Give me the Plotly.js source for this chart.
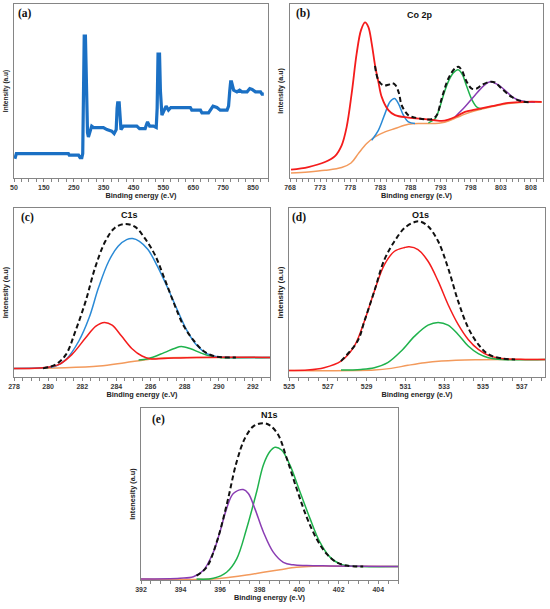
<!DOCTYPE html>
<html>
<head>
<meta charset="utf-8">
<script src="https://cdn.plot.ly/plotly-3.0.1.min.js"></script>
<style>html,body{margin:0;padding:0;background:#fff}#chart{width:550px;height:609px}</style>
</head>
<body>
<div id="chart"></div>
<script>
// (a) survey spectrum
const aE = [53,58,100,150,200,232,235,266,271,277,280,283,285,289,292,296,299,305,310,316,349,361,377,385,392,395,397,402,404,408,416,461,470,489,494,497,500,504,517,526,529,532,537,540,545,553,559,567,575,640,645,674,679,701,707,716,729,740,763,768,772,775,778,781,785,796,805,813,830,839,847,858,875,880,886];
const aY = [11.1,14,14,14,14,14,13.1,13.1,11.7,11.7,14,55,81.6,81.6,55,26,23.6,27,29.8,29.0,29.0,27.8,26.9,25.5,27.8,40,43.2,43.2,38,27.8,29.8,29.8,28.4,28.4,31,32.2,31,29.8,29.8,29.0,40,71.2,71.2,50,36.1,39.0,41.3,39.0,40.5,40.5,39.0,39.0,37.4,37.4,39.3,41.3,40.5,39.0,39.0,41.3,50,55.3,55.3,52,50.5,49.5,50.5,49.5,49.5,51.4,50.9,49.5,49.5,48.2,48.2];

// (b) Co 2p
const bE_red = [768.17,771.04,773.81,775.47,776.58,777.41,778.24,779.07,779.79,780.45,781.0,781.56,782.11,782.67,783.22,784.33,785.43,787.65,790.41,792.07,793.18,794.29,795.67,797.05,798.71,801.48,804.25,807.01,809.78];
const bY_red = [4.8,6.3,9.2,12.6,18.8,29.4,48.6,71.6,85.0,89.4,86.9,77.4,64.9,55.3,46.6,39.0,36.1,34.7,33.8,33.2,32.8,33.6,35.5,38.0,39.3,41.3,43.2,43.8,43.8];
const bE_bg = [768.17,771.04,773.81,776.58,778.13,779.34,780.73,782.11,783.77,785.43,787.65,789.86,792.07,793.18,794.29,795.67,797.05,798.71,801.48,804.25,807.01,809.78];
const bY_bg = [2.9,3.5,4.4,6.0,8.6,14.0,19.8,23.6,26.5,28.4,30.9,31.3,31.3,31.7,32.8,34.7,36.7,38.6,40.9,42.8,43.6,43.6];
const bE_blue = [781.56,782.67,783.77,784.6,785.35,786.0,786.82,787.65,788.75];
const bY_blue = [21.7,27.4,37.0,43.8,45.7,42.8,36.1,32.2,31.3];
const bE_green = [790.97,792.07,792.9,793.6,794.3,795.1,795.9,796.6,797.3,798.2,799.0,799.8];
const bY_green = [31.7,34,41,49,55.5,60.3,62.2,59.5,53,45,40.8,39.6];
const bE_pur = [795.39,797.05,798.71,800.1,801.3,802.86,804.25,805.63,807.01,808.67];
const bY_pur = [35.1,40.9,47.6,52.8,55.3,52.8,48.6,45.1,44.0,43.6];
const bE_env = [782.11,782.67,783.5,784.33,784.99,785.54,786.1,786.54,787.65,788.75,791.52,792.35,793.18,794.29,795.39,795.95,796.5,797.33,798.16,798.99,799.82,801.2,802.03,803.14,804.8,806.46,808.12];
const bY_env = [64.5,56.2,53.2,53.6,54.5,53.2,48.6,41.8,36.1,34.7,33.8,36.1,45.7,57.2,63.0,63.9,62.0,55.3,51.4,51.4,53.4,55.3,54.9,51.4,46.6,44.1,43.4];

// (c) C1s
const cE_bg = [278,281,283,284.5,285.85,286.8,288.7,293];
const cY_bg = [5.1,5.5,6.5,8.5,10.4,11.4,11.6,11.6];
const cE_red = [278,279.7,280.65,281.4,282.2,282.8,283.3,283.75,284.3,284.9,285.5,286.0,286.8,288.7,293];
const cY_red = [5.1,5.5,7.5,13.4,23.2,30.1,32.3,30.7,24.2,16.9,12.4,10.8,11.0,11.6,11.6];
const cE_blue = [278,279.7,280.45,281.05,281.8,282.4,282.95,283.55,284.1,284.6,284.95,285.35,285.85,286.4,287.0,287.6,288.15,288.75,289.3,289.9,290.65,293];
const cY_blue = [5.1,5.5,6.5,10.4,21.3,35.0,52.8,68.5,77.4,81.3,81.9,80.3,75.4,65.6,52.8,39.0,27.2,18.3,13.8,12.0,11.6,11.6];
const cE_green = [285.3,285.85,286.8,287.4,287.8,288.35,288.9,289.5,290.1,293];
const cY_green = [10.1,10.8,14.4,16.9,18.1,16.7,14.4,12.4,11.6,11.6];
const cE_env = [279.7,280.45,281.05,281.6,282.2,282.75,283.35,283.9,284.5,285.1,285.65,286.25,286.8,287.4,287.95,288.55,289.1,289.7,290.3,291.0];
const cY_env = [5.1,7.5,13.4,27.2,44.9,64.6,80.3,88.2,90.6,88.8,82.3,72.4,58.7,42.9,30.1,21.3,15.4,12.4,11.6,11.6];

// (d) O1s
const dE_bg = [525,529.4,530.27,531.13,532.0,532.86,534.59,536.31,538.2];
const dY_bg = [3.9,4.1,5.1,6.9,8.5,9.4,10.2,10.4,10.4];
const dE_red = [525,525.95,526.81,527.68,528.37,528.89,529.4,529.92,530.44,530.96,531.2,531.65,532.17,532.69,533.2,533.72,534.24,534.76,535.28,535.97,537.18,538.2];
const dY_red = [3.9,4.1,5.5,9.4,18.3,33.1,50.8,66.5,74.4,76.6,77.0,75.4,68.5,56.7,42.9,31.1,22.2,16.3,12.8,11.0,10.4,10.4];
const dE_green = [527.68,528.71,529.4,530.09,530.79,531.48,532.17,532.69,533.2,533.72,534.24,534.76,535.28,535.97,538.2];
const dY_green = [4.1,4.5,5.5,8.5,15.4,24.2,30.7,32.3,30.7,25.2,18.3,13.8,11.4,10.4,10.4];
const dE_env = [527.68,528.54,528.89,529.4,529.92,530.44,530.96,531.48,531.74,532.17,532.69,533.2,533.72,534.24,534.76,535.28,535.97,536.66];
const dY_env = [9.4,21.3,33.1,50.8,69.5,80.3,88.2,91.7,92.1,89.2,80.3,64.6,44.9,29.1,19.3,13.4,11.0,10.4];

// (e) N1s
const eE_bg = [392,395.66,396.5,397.34,398.19,399.03,399.87,400.71,402.4,405];
const eY_bg = [0.6,0.6,1.6,2.9,4.5,6.0,7.4,8.0,8.0,7.8];
const eE_pur = [392,393.97,394.65,395.15,395.66,395.99,396.33,396.67,397.17,397.43,397.76,398.19,398.69,399.2,399.7,400.38,401.56,405];
const eY_pur = [0.6,1.0,1.9,5.5,16.2,27.9,41.5,50.3,52.6,50.3,41.5,27.9,16.2,10.3,8.8,8.4,8.2,7.8];
const eE_green = [394.81,395.66,396.33,396.84,397.34,397.85,398.19,398.52,398.78,399.11,399.53,400.04,400.55,401.05,401.56,402.06,402.57,405];
const eY_green = [0.6,1.0,4.5,12.3,29.8,51.3,66.9,74.7,77.2,75.6,66.9,51.3,35.7,22.0,13.3,9.4,8.2,7.8];
const eE_env = [394.81,395.32,395.83,396.33,396.84,397.26,397.68,398.15,398.52,398.94,399.37,399.87,400.38,400.88,401.39,401.89,402.4,403.24];
const eY_env = [2.5,7.4,22.0,43.5,68.8,82.5,89.3,91.2,89.9,84.4,70.8,53.2,36.6,24.0,15.2,10.3,8.4,7.8];

const RED = '#f41c1c', BLUE = '#2a8ad6', GREEN = '#1fb24c', PURPLE = '#8a3db3', ORANGE = '#f39a5c', BLACK = '#111';

function fit(x, y, color, ax, width) {
  return {x: x, y: y, type: 'scatter', mode: 'lines', xaxis: 'x' + ax, yaxis: 'y' + ax,
    line: {color: color, width: width || 1.5, shape: 'spline', smoothing: 1}, hoverinfo: 'skip'};
}
function env(x, y, ax) {
  return {x: x, y: y, type: 'scatter', mode: 'lines', xaxis: 'x' + ax, yaxis: 'y' + ax,
    line: {color: BLACK, width: 2, dash: '5px,3px', shape: 'spline', smoothing: 1}, hoverinfo: 'skip'};
}

const traces = [
  {x: aE, y: aY, type: 'scatter', mode: 'lines', xaxis: 'x', yaxis: 'y', line: {color: '#1b70c4', width: 3.2}, hoverinfo: 'skip'},
  fit(bE_bg, bY_bg, ORANGE, 2), fit(bE_blue, bY_blue, BLUE, 2), fit(bE_green, bY_green, GREEN, 2), fit(bE_pur, bY_pur, PURPLE, 2),
  fit(bE_red, bY_red, RED, 2, 1.8), env(bE_env, bY_env, 2),
  fit(cE_bg, cY_bg, ORANGE, 3), fit(cE_green, cY_green, GREEN, 3), fit(cE_blue, cY_blue, BLUE, 3), fit(cE_red, cY_red, RED, 3), env(cE_env, cY_env, 3),
  fit(dE_bg, dY_bg, ORANGE, 4), fit(dE_green, dY_green, GREEN, 4), fit(dE_red, dY_red, RED, 4), env(dE_env, dY_env, 4),
  fit(eE_bg, eY_bg, ORANGE, 5), fit(eE_green, eY_green, GREEN, 5), fit(eE_pur, eY_pur, PURPLE, 5), env(eE_env, eY_env, 5)
];

const W = 550, H = 609;
const px = v => v / W, py = v => 1 - v / H;
const LINE = '#858585';
const tickFont = {family: 'Liberation Sans, Arial, sans-serif', size: 7, weight: 'bold', color: '#3a3a3a'};
const titleFont = {family: 'Liberation Sans, Arial, sans-serif', size: 7.3, weight: 'bold', color: '#222'};

function xax(l, r, range, tick0, dtick, minor, anchor) {
  return {domain: [px(l), px(r)], anchor: anchor, range: range, tick0: tick0, dtick: dtick,
    showline: true, linecolor: LINE, linewidth: 1, mirror: true, showgrid: false, zeroline: false,
    ticks: 'outside', ticklen: 3, tickcolor: LINE, tickwidth: 1, tickfont: tickFont,
    minor: {dtick: minor, tick0: tick0, ticks: 'outside', ticklen: 3, tickcolor: LINE, showgrid: false},
    title: {text: 'Binding energy (e.V)', font: titleFont, standoff: 1}, fixedrange: true};
}
function yax(top, bottom, anchor, text, size, standoff) {
  return {domain: [py(bottom), py(top)], anchor: anchor, range: [0, 100],
    showline: true, linecolor: LINE, linewidth: 1, mirror: true, showgrid: false, zeroline: false,
    ticks: '', showticklabels: false,
    title: {text: text, font: {family: titleFont.family, size: size, weight: 'bold', color: '#222'}, standoff: standoff}, fixedrange: true};
}

const layout = {
  width: W, height: H, margin: {l: 0, r: 0, t: 0, b: 0}, paper_bgcolor: '#fff', plot_bgcolor: '#fff',
  showlegend: false, hovermode: false,
  xaxis: xax(14, 268, [50, 900], 50, 100, 25, 'y'),
  yaxis: yax(4, 178, 'x', 'Intensity (a.u)', 6.5, 3),
  xaxis2: xax(290, 543, [768, 810], 768, 5, 1, 'y2'),
  yaxis2: yax(4, 178, 'x2', 'Intensity (a.u)', 7, 4),
  xaxis3: xax(14, 270, [278, 293], 278, 2, 0.5, 'y3'),
  yaxis3: yax(208, 377, 'x3', 'Intenesity (a.u)', 7.3, 3),
  xaxis4: xax(289, 545, [525, 538.2], 525, 2, 0.5, 'y4'),
  yaxis4: yax(208, 377, 'x4', 'Intensity (a.u)', 8, 3),
  xaxis5: xax(141, 398, [392, 405], 392, 2, 0.5, 'y5'),
  yaxis5: yax(408, 580, 'x5', 'Intenesity (a.u)', 7.3, 3),
  annotations: [
    ['(a)', 25, 14], ['(b)', 302.5, 14], ['(c)', 27, 217], ['(d)', 299, 217], ['(e)', 158.5, 419]
  ].map(a => ({text: '<b>' + a[0] + '</b>', x: px(a[1]), y: py(a[2]), xref: 'paper', yref: 'paper',
    xanchor: 'center', yanchor: 'middle', showarrow: false,
    font: {family: 'Liberation Serif, Times New Roman, serif', size: 11.5, color: '#111'}})).concat(
  [
    ['Co 2p', 420, 15], ['C1s', 129, 215], ['O1s', 420, 215], ['N1s', 269, 415]
  ].map(a => ({text: '<b>' + a[0] + '</b>', x: px(a[1]), y: py(a[2]), xref: 'paper', yref: 'paper',
    xanchor: 'center', yanchor: 'middle', showarrow: false,
    font: {family: 'Liberation Sans, Arial, sans-serif', size: 9, color: '#111'}})))
};

Plotly.newPlot('chart', traces, layout, {staticPlot: true, displayModeBar: false});
</script>
</body>
</html>
